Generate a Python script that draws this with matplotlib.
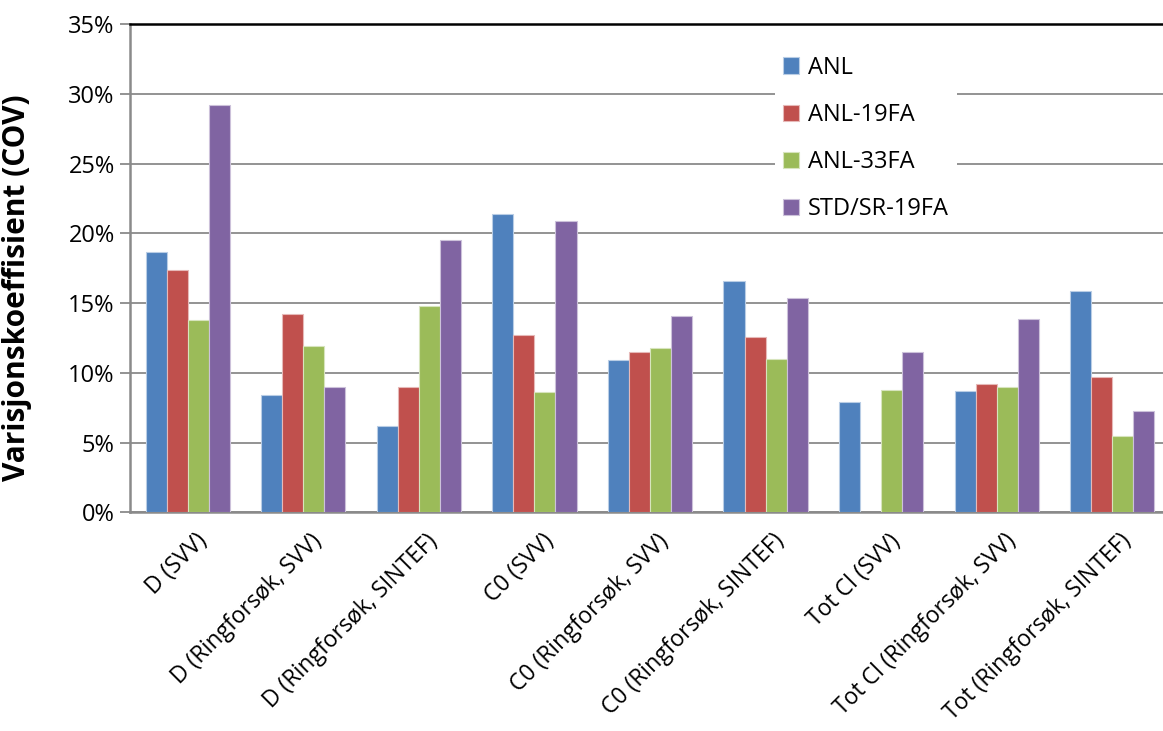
import numpy as np
import matplotlib
matplotlib.use("Agg")
import matplotlib.pyplot as plt
from matplotlib.transforms import ScaledTranslation

plt.rcParams['font.family'] = ['Open Sans', 'DejaVu Sans']

categories = [
    "D (SVV)",
    "D (Ringforsøk, SVV)",
    "D (Ringforsøk, SINTEF)",
    "C0 (SVV)",
    "C0 (Ringforsøk, SVV)",
    "C0 (Ringforsøk, SINTEF)",
    "Tot Cl (SVV)",
    "Tot Cl (Ringforsøk, SVV)",
    "Tot (Ringforsøk, SINTEF)",
]

# coefficient of variation in percent, one list per mix
anl = [18.7, 8.4, 6.2, 21.4, 10.9, 16.6, 7.9, 8.7, 15.9]
anl_19fa = [17.4, 14.2, 9.0, 12.7, 11.5, 12.6, np.nan, 9.2, 9.7]
anl_33fa = [13.8, 11.9, 14.8, 8.6, 11.8, 11.0, 8.8, 9.0, 5.5]
std_sr_19fa = [29.2, 9.0, 19.5, 20.9, 14.1, 15.4, 11.5, 13.9, 7.3]

series = [
    ("ANL", anl, "#4F81BD", "#B9CDE5"),
    ("ANL-19FA", anl_19fa, "#C0504D", "#E6B9B8"),
    ("ANL-33FA", anl_33fa, "#9BBB59", "#D7E4BD"),
    ("STD/SR-19FA", std_sr_19fa, "#8064A2", "#CCC1DA"),
]

W, H = 1163, 731
fig = plt.figure(figsize=(W / 100, H / 100), dpi=100)
# plot area runs a bit past the right edge of the figure
left, right, top, bottom = 130, 1170, 24.2, 512.4
ax = fig.add_axes([left / W, 1 - bottom / H, (right - left) / W, (bottom - top) / H])

x = np.arange(len(categories))
bw = 0.182
handles = []
for k, (name, vals, color, edge) in enumerate(series):
    b = ax.bar(x + (k - 1.5) * bw, vals, bw, color=color, edgecolor=edge,
               linewidth=0.8, label=name, zorder=3)
    handles.append(b)

ax.set_xlim(-0.5, len(categories) - 0.5)
ax.set_ylim(0, 35)
ax.set_yticks(np.arange(0, 36, 5))
ax.set_yticklabels([f"{v}%" for v in range(0, 36, 5)], fontsize=17)
ax.yaxis.grid(True, color="#8A8A8A", linewidth=1.3, zorder=0)
ax.set_axisbelow(True)

for s in ["left", "bottom"]:
    ax.spines[s].set_color("#8A8A8A")
    ax.spines[s].set_linewidth(1.8)
ax.spines["right"].set_visible(False)
ax.spines["top"].set_color("black")
ax.spines["top"].set_linewidth(1.8)

ax.tick_params(axis="y", length=7, width=1.3, color="#8A8A8A", pad=4)
ax.tick_params(axis="x", length=0, pad=12)

ax.set_xticks(x)
ax.set_xticklabels(categories, fontsize=16.5, rotation=45, ha="right",
                   va="top", rotation_mode="anchor")
shift = ScaledTranslation(7 / 100, 0, fig.dpi_scale_trans)
for lab in ax.get_xticklabels():
    lab.set_transform(lab.get_transform() + shift)

ax.set_ylabel("Varisjonskoeffisient (COV)", fontsize=21.5, fontweight="bold")
ax.yaxis.set_label_coords((32 - left) / (right - left), 0.46)

leg = ax.legend(handles=handles, loc="upper left",
                bbox_to_anchor=(775 / W, 1 - 47.5 / H), bbox_transform=fig.transFigure,
                fontsize=17, frameon=True, facecolor="white", edgecolor="none",
                fancybox=False, framealpha=1, labelspacing=0.98,
                handlelength=0.68, handleheight=0.68, handletextpad=0.35,
                borderpad=0.35, borderaxespad=0)

fig.savefig("out.png", dpi=100)
